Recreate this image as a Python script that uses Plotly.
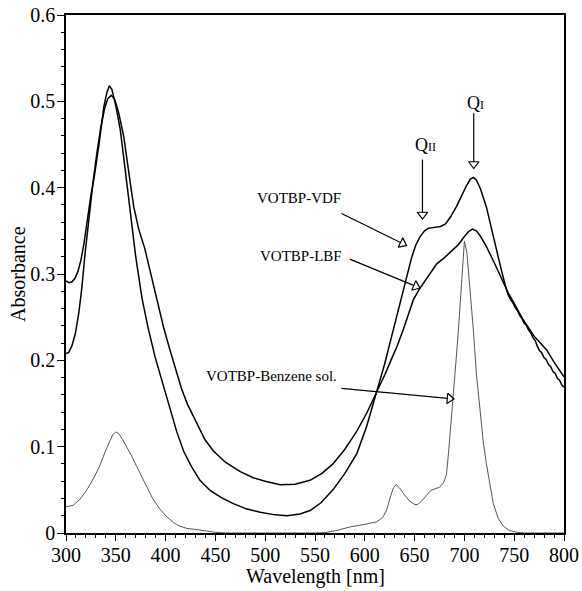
import math
import plotly.graph_objects as go

# ---------------- data ----------------
wl_vdf = [300, 303, 306, 309, 312, 315, 318, 320, 322.8, 325, 328, 333, 338, 341, 343.5,
          346, 350, 354.5, 359, 364.6, 370, 376.3, 382, 389.4, 396, 402.7, 411, 418, 426,
          434.5, 445, 456, 468, 481, 495, 510, 522, 535, 545, 556, 568, 580, 592, 602,
          612.5, 620, 627, 633, 638.7, 643, 647, 651, 655.4, 660, 664, 670, 676, 681, 686,
          692, 697, 702, 706, 709, 712, 716, 722, 727, 732, 737, 741, 744, 746.5, 748.5,
          751, 753, 755.5, 757.5, 760, 762, 764.5, 766.5, 769, 771, 773, 775.5, 777.5,
          780, 782, 784.5, 786.5, 789, 791, 793.5, 795.5, 798, 800]
abs_vdf = [0.292, 0.290, 0.291, 0.295, 0.303, 0.316, 0.335, 0.352, 0.376, 0.391, 0.410,
           0.449, 0.494, 0.510, 0.518, 0.514, 0.495, 0.467, 0.425, 0.370, 0.320, 0.272,
           0.240, 0.204, 0.178, 0.152, 0.118, 0.095, 0.077, 0.061, 0.049, 0.041, 0.034,
           0.028, 0.024, 0.021, 0.020, 0.022, 0.026, 0.035, 0.050, 0.069, 0.092, 0.124,
           0.1645, 0.196, 0.228, 0.256, 0.282, 0.302, 0.319, 0.333, 0.343, 0.350, 0.353,
           0.354, 0.355, 0.358, 0.366, 0.378, 0.391, 0.402, 0.410, 0.412, 0.409, 0.399,
           0.378, 0.353, 0.328, 0.305, 0.287, 0.276, 0.270, 0.267, 0.261, 0.258, 0.252,
           0.249, 0.243, 0.241, 0.235, 0.232, 0.226, 0.223, 0.217, 0.211, 0.209, 0.203,
           0.201, 0.195, 0.193, 0.187, 0.185, 0.179, 0.177, 0.171, 0.169]

wl_lbf = [300, 302.6, 306, 309.4, 313, 316, 319, 322.8, 327, 331, 335, 339, 342, 345.5,
          349, 353, 358, 363, 368, 373, 379, 386, 392.7, 398, 404.4, 410, 416, 422, 429.5,
          439.6, 448, 460, 475, 488, 500, 515, 530, 545, 557, 568, 580, 592, 602, 612.5,
          620, 627, 633, 639, 644, 648.7, 654, 658.7, 665, 672, 680, 689, 694, 699, 704,
          708, 712, 716, 722, 730, 739, 744, 749, 759, 770, 782.6, 790, 800]
abs_lbf = [0.208, 0.209, 0.217, 0.231, 0.256, 0.285, 0.322, 0.363, 0.405, 0.440, 0.470,
           0.493, 0.503, 0.507, 0.502, 0.486, 0.459, 0.418, 0.378, 0.352, 0.330, 0.296,
           0.262, 0.238, 0.212, 0.189, 0.167, 0.149, 0.131, 0.108, 0.095, 0.082, 0.071,
           0.064, 0.060, 0.056, 0.0565, 0.061, 0.069, 0.080, 0.097, 0.118, 0.139, 0.1645,
           0.183, 0.202, 0.218, 0.237, 0.255, 0.270, 0.281, 0.289, 0.300, 0.3115, 0.319,
           0.328, 0.334, 0.342, 0.349, 0.352, 0.350, 0.344, 0.332, 0.313, 0.291, 0.278,
           0.268, 0.247, 0.228, 0.212, 0.198, 0.181]

wl_benz = [300, 307, 314, 321, 328, 334, 340, 344, 347, 350, 353, 357, 361, 366, 371, 376,
           381, 387, 394, 401, 408, 414, 421, 430, 440, 450, 460, 550, 560, 572, 585, 600,
           612, 618, 622, 626, 629, 631.5, 635, 640, 645, 650, 653, 657, 662, 666, 670,
           675, 679, 682, 684, 686.5, 689, 691.5, 694, 697, 700, 702.5, 705.5, 709, 712,
           716, 719, 722, 725.5, 729, 734, 739, 745, 752, 760, 800]
abs_benz = [0.0305, 0.032, 0.039, 0.050, 0.064, 0.078, 0.096, 0.107, 0.114, 0.117, 0.115,
            0.108, 0.100, 0.089, 0.077, 0.065, 0.053, 0.040, 0.028, 0.019, 0.012, 0.008,
            0.0055, 0.0045, 0.0025, 0.0008, 0.0, 0.0, 0.0005, 0.003, 0.007, 0.010, 0.013,
            0.018, 0.027, 0.043, 0.053, 0.056, 0.052, 0.044, 0.037, 0.033, 0.033, 0.037,
            0.044, 0.049, 0.051, 0.053, 0.058, 0.068, 0.092, 0.125, 0.160, 0.198, 0.235,
            0.292, 0.338, 0.325, 0.285, 0.235, 0.185, 0.139, 0.105, 0.081, 0.056, 0.034,
            0.017, 0.008, 0.003, 0.001, 0.0, 0.0]

x_tickvals = [300, 350, 400, 450, 500, 550, 600, 650, 700, 750, 800]
y_tickvals = [0, 0.1, 0.2, 0.3, 0.4, 0.5, 0.6]
y_ticktext = ["0", "0.1", "0.2", "0.3", "0.4", "0.5", "0.6"]

x_title = "Wavelength [nm]"
y_title = "Absorbance"

# text labels: (text, x, y)
label_text = ["VOTBP-VDF", "VOTBP-LBF", "VOTBP-Benzene sol."]
label_x = [489.8, 492.8, 438.6]
label_y = [0.388, 0.321, 0.182]

# arrows: tail (x, y) -> tip (x, y)
arrow_tail_x = [575.1, 583.4, 575.1, 657.9, 709.4]
arrow_tail_y = [0.371, 0.318, 0.1676, 0.4344, 0.488]
arrow_tip_x = [641.9, 655.4, 689.6, 657.9, 709.4]
arrow_tip_y = [0.333, 0.2838, 0.1552, 0.3637, 0.4222]

q_text = ["Q<span style='font-size:12px'>II</span>", "Q<span style='font-size:12px'>I</span>"]
q_x = [660.8, 711.6]
q_y = [0.449, 0.498]

# ---------------- layout geometry ----------------
FIG_W, FIG_H = 582, 591
M_L, M_R, M_T, M_B = 66, 18, 15, 58
X_RANGE = [300, 800]
Y_RANGE = [0, 0.6]
plot_w = FIG_W - M_L - M_R
plot_h = FIG_H - M_T - M_B
sx = plot_w / (X_RANGE[1] - X_RANGE[0])
sy = plot_h / (Y_RANGE[1] - Y_RANGE[0])

FONT = "Liberation Serif, Times New Roman, serif"
HEAD_SIZE = 9
r = HEAD_SIZE / 2.0

fig = go.Figure()

fig.add_trace(go.Scatter(x=wl_benz, y=abs_benz, mode="lines", name="VOTBP-Benzene sol.",
                         line=dict(color="#555555", width=1)))
fig.add_trace(go.Scatter(x=wl_lbf, y=abs_lbf, mode="lines", name="VOTBP-LBF",
                         line=dict(color="black", width=1.5)))
fig.add_trace(go.Scatter(x=wl_vdf, y=abs_vdf, mode="lines", name="VOTBP-VDF",
                         line=dict(color="black", width=1.5)))

# arrow heads (open triangles) placed at arrow tips
head_x, head_y, head_ang = [], [], []
annotations = []
for tx, ty, hx, hy in zip(arrow_tail_x, arrow_tail_y, arrow_tip_x, arrow_tip_y):
    dxp = (hx - tx) * sx
    dyp = -(hy - ty) * sy
    L = math.hypot(dxp, dyp)
    ux, uy = dxp / L, dyp / L
    head_x.append(hx - r * ux / sx)
    head_y.append(hy + r * uy / sy)
    head_ang.append(math.degrees(math.atan2(dyp, dxp)))
    annotations.append(dict(x=hx, y=hy, ax=tx, ay=ty, xref="x", yref="y",
                            axref="x", ayref="y", text="", showarrow=True,
                            arrowhead=0, arrowwidth=1.2, arrowcolor="black",
                            standoff=1.5 * r - 0.5))

fig.add_trace(go.Scatter(x=head_x, y=head_y, mode="markers", hoverinfo="skip",
                         marker=dict(symbol="triangle-right-open", size=HEAD_SIZE,
                                     angle=head_ang, color="black",
                                     line=dict(width=1.2, color="black"))))

for t, x, y in zip(label_text, label_x, label_y):
    annotations.append(dict(x=x, y=y, xref="x", yref="y", text=t, showarrow=False,
                            xanchor="left", yanchor="middle",
                            font=dict(family=FONT, size=15, color="black")))
for t, x, y in zip(q_text, q_x, q_y):
    annotations.append(dict(x=x, y=y, xref="x", yref="y", text=t, showarrow=False,
                            xanchor="center", yanchor="middle",
                            font=dict(family=FONT, size=18, color="black")))

# axis titles as annotations (positioned in px relative to the plot area)
annotations.append(dict(x=0.5, y=-43.0 / plot_h, xref="paper", yref="paper",
                        text=x_title, showarrow=False, xanchor="center", yanchor="middle",
                        font=dict(family=FONT, size=20, color="black")))
annotations.append(dict(x=-(M_L - 18.0) / plot_w, y=0.5, xref="paper", yref="paper",
                        text=y_title, showarrow=False, textangle=-90,
                        xanchor="center", yanchor="middle",
                        font=dict(family=FONT, size=20, color="black")))

fig.update_layout(
    width=FIG_W, height=FIG_H,
    margin=dict(l=M_L, r=M_R, t=M_T, b=M_B, autoexpand=False),
    paper_bgcolor="white", plot_bgcolor="white",
    showlegend=False,
    font=dict(family=FONT, size=20, color="black"),
    annotations=annotations,
)
fig.update_xaxes(
    range=X_RANGE, tickvals=x_tickvals, ticks="outside", ticklen=6, tickwidth=1.2,
    tickcolor="black", showline=True, linecolor="black", linewidth=1.5, mirror=True,
    showgrid=False, zeroline=False, ticklabelstandoff=-3,
    tickfont=dict(family=FONT, size=20),
    minor=dict(dtick=10, ticks="outside", ticklen=3, tickcolor="black", tickwidth=1),
)
fig.update_yaxes(
    range=Y_RANGE, tickvals=y_tickvals, ticktext=y_ticktext, ticks="outside", ticklen=7,
    tickwidth=1.2, tickcolor="black", showline=True, linecolor="black", linewidth=1.5,
    mirror=True, showgrid=False, zeroline=False, ticklabelstandoff=-2,
    tickfont=dict(family=FONT, size=20),
    minor=dict(dtick=0.02, ticks="outside", ticklen=3, tickcolor="black", tickwidth=1),
)

# remove the browser's default 8 px body margin so the figure fills the window
fig.write_html("out.html", config={"displayModeBar": False},
               post_script="document.body.style.margin='0px';")
